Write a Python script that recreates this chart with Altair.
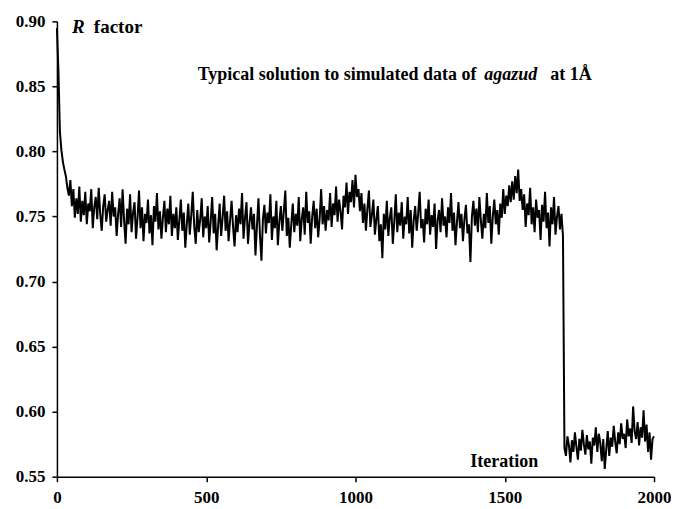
import altair as alt
import pandas as pd

step = 5
r_values = [
    0.895, 0.862, 0.815, 0.801, 0.792, 0.786, 0.781, 0.772, 0.766, 0.778, 0.758, 0.771, 0.749, 0.764, 0.752, 0.773, 0.746, 0.762, 0.751, 0.769,
    0.744, 0.760, 0.754, 0.771, 0.741, 0.757, 0.765, 0.748, 0.772, 0.752, 0.739, 0.758, 0.767, 0.746, 0.755, 0.762, 0.743, 0.769, 0.750, 0.757,
    0.735, 0.752, 0.764, 0.742, 0.771, 0.747, 0.729, 0.756, 0.744, 0.767, 0.738, 0.753, 0.761, 0.733, 0.749, 0.770, 0.741, 0.757, 0.731, 0.752,
    0.745, 0.763, 0.737, 0.751, 0.728, 0.758, 0.746, 0.768, 0.740, 0.754, 0.733, 0.749, 0.762, 0.738, 0.756, 0.744, 0.766, 0.735, 0.752, 0.741,
    0.757, 0.732, 0.747, 0.763, 0.739, 0.753, 0.726, 0.744, 0.760, 0.736, 0.751, 0.769, 0.742, 0.729, 0.755, 0.738, 0.748, 0.764, 0.734, 0.750,
    0.741, 0.758, 0.730, 0.746, 0.765, 0.737, 0.752, 0.724, 0.743, 0.760, 0.735, 0.749, 0.766, 0.739, 0.754, 0.731, 0.747, 0.762, 0.742, 0.727,
    0.751, 0.738, 0.756, 0.744, 0.768, 0.733, 0.749, 0.761, 0.729, 0.745, 0.757, 0.740, 0.752, 0.720, 0.743, 0.764, 0.736, 0.716, 0.748, 0.759,
    0.737, 0.753, 0.745, 0.767, 0.732, 0.750, 0.741, 0.762, 0.728, 0.746, 0.758, 0.739, 0.754, 0.770, 0.735, 0.749, 0.726, 0.744, 0.760, 0.738,
    0.752, 0.743, 0.765, 0.731, 0.748, 0.757, 0.736, 0.769, 0.745, 0.754, 0.729, 0.750, 0.762, 0.741, 0.756, 0.734, 0.748, 0.771, 0.744, 0.758,
    0.739, 0.755, 0.747, 0.768, 0.742, 0.760, 0.751, 0.773, 0.746, 0.763, 0.754, 0.740, 0.766, 0.757, 0.776, 0.752, 0.769, 0.761, 0.778, 0.757,
    0.782, 0.765, 0.771, 0.754, 0.768, 0.745, 0.760, 0.739, 0.756, 0.770, 0.742, 0.751, 0.763, 0.736, 0.748, 0.758, 0.731, 0.744, 0.718, 0.752,
    0.740, 0.762, 0.735, 0.749, 0.757, 0.729, 0.746, 0.767, 0.738, 0.753, 0.743, 0.761, 0.733, 0.750, 0.744, 0.765, 0.737, 0.755, 0.726, 0.747,
    0.758, 0.739, 0.752, 0.769, 0.741, 0.748, 0.730, 0.756, 0.744, 0.763, 0.736, 0.751, 0.742, 0.760, 0.725, 0.747, 0.755, 0.738, 0.764, 0.743,
    0.750, 0.734, 0.757, 0.745, 0.768, 0.739, 0.753, 0.728, 0.746, 0.761, 0.741, 0.752, 0.731, 0.748, 0.759, 0.737, 0.744, 0.715, 0.750, 0.762,
    0.743, 0.756, 0.738, 0.765, 0.747, 0.733, 0.752, 0.741, 0.768, 0.745, 0.758, 0.729, 0.750, 0.763, 0.744, 0.755, 0.736, 0.760, 0.749, 0.771,
    0.752, 0.766, 0.758, 0.774, 0.761, 0.777, 0.763, 0.781, 0.768, 0.786, 0.762, 0.771, 0.755, 0.767, 0.742, 0.760, 0.751, 0.772, 0.744, 0.757,
    0.738, 0.763, 0.749, 0.755, 0.732, 0.759, 0.746, 0.769, 0.741, 0.753, 0.727, 0.757, 0.744, 0.765, 0.736, 0.750, 0.758, 0.740, 0.752, 0.735,
    0.572, 0.566, 0.581, 0.574, 0.561, 0.578, 0.569, 0.584, 0.573, 0.563, 0.579, 0.570, 0.586, 0.575, 0.567, 0.582, 0.571, 0.577, 0.560, 0.580,
    0.574, 0.588, 0.569, 0.583, 0.576, 0.562, 0.579, 0.556, 0.571, 0.585, 0.566, 0.580, 0.573, 0.589, 0.577, 0.568, 0.584, 0.575, 0.591, 0.579,
    0.583, 0.572, 0.594, 0.581, 0.587, 0.576, 0.604, 0.585, 0.579, 0.592, 0.574, 0.588, 0.580, 0.601, 0.577, 0.590, 0.569, 0.584, 0.563, 0.579,
    0.581,
]
iterations = [i * step for i in range(len(r_values))]
x_ticks = [0, 500, 1000, 1500, 2000]
y_ticks = [0.55, 0.60, 0.65, 0.70, 0.75, 0.80, 0.85, 0.90]

df = pd.DataFrame({"iteration": iterations, "r": r_values})
FONT = "Liberation Serif, Times New Roman, DejaVu Serif, serif"

line = alt.Chart(df).mark_line(color="black", strokeWidth=2).encode(
    x=alt.X("iteration:Q", scale=alt.Scale(domain=[0, 2000], nice=False),
            axis=alt.Axis(values=x_ticks, title=None, grid=False, format="d",
                          labelFlush=False, labelOverlap=False,
                          tickSize=5, labelPadding=8, domainWidth=1.5, tickWidth=1.5)),
    y=alt.Y("r:Q", scale=alt.Scale(domain=[0.55, 0.90], nice=False, zero=False),
            axis=alt.Axis(values=y_ticks, title=None, grid=False, format=".2f",
                          tickSize=5, labelPadding=7, domainWidth=1.5, tickWidth=1.5)),
)

def txt(s, x, y, italic=False, size=18, align="left"):
    return alt.Chart(pd.DataFrame({"t": [s]})).mark_text(
        font=FONT, fontSize=size, fontWeight="bold",
        fontStyle="italic" if italic else "normal",
        align=align, baseline="alphabetic", color="black"
    ).encode(text="t:N", x=alt.value(x), y=alt.value(y))

texts = [
    txt("R", 15, 12, italic=True, size=19),
    txt("factor", 37, 12, size=19),
    txt("Typical solution to simulated data of", 141, 59),
    txt("agazud", 428, 59, italic=True),
    txt("at 1Å", 494, 59),
    txt("Iteration", 414, 446),
]

chart = alt.layer(line, *texts).properties(
    width=598, height=456,
    autosize=alt.AutoSizeParams(type="none"),
    padding={"left": 49, "top": 13, "right": 17, "bottom": 32},
).configure_axis(
    labelFont=FONT, labelFontSize=17, labelFontWeight="bold", labelColor="black",
    domainColor="black", tickColor="black",
).configure_view(stroke=None)

chart.save("out.html", embed_options={"renderer": "svg", "actions": False})
